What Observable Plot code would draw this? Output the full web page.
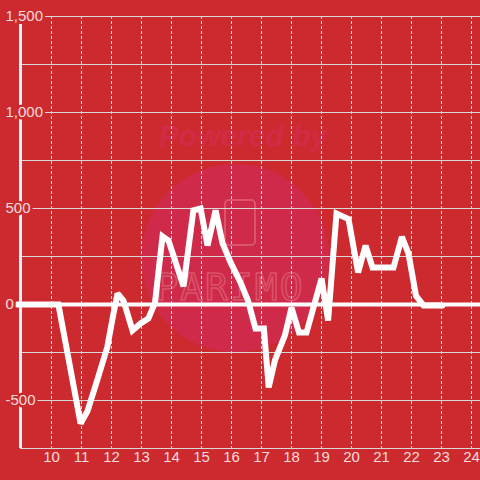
<!DOCTYPE html>
<html>
<head>
<meta charset="utf-8">
<script src="https://cdn.jsdelivr.net/npm/d3@7"></script>
<script src="https://cdn.jsdelivr.net/npm/@observablehq/plot@0.6"></script>
<style>
  html, body { margin: 0; padding: 0; background: #cd2a2f; }
  #wrap { position: relative; width: 480px; height: 480px; overflow: hidden; }
  #wm { position: absolute; left: 0; top: 0; width: 480px; height: 480px; z-index: 0; }
  #chart { position: absolute; left: 0; top: 0; z-index: 1; }
  #chart svg { background: transparent !important; }
</style>
</head>
<body>
<div id="wrap">
  <svg id="wm" width="480" height="480">
    <circle cx="235" cy="258" r="94" fill="#d02a4a"/>
    <text x="243" y="146" text-anchor="middle" font-family="Liberation Sans, Arial, sans-serif" font-weight="bold" font-style="italic" font-size="30" fill="#d12b46">Powered by</text>
    <rect x="225" y="200" width="30" height="45" rx="4" fill="none" stroke="#d9546c" stroke-width="2"/>
    <text x="230" y="300" text-anchor="middle" font-family="DejaVu Sans Mono, monospace" font-size="38" fill="none" stroke="#d9546c" stroke-width="1.5" letter-spacing="2">PARIMO</text>
  </svg>
  <div id="chart"></div>
</div>
<script>
// data (hour of day, value)
const hours = [8.87, 10.23, 10.97, 11.2, 11.52, 11.86, 12.05, 12.2, 12.4, 12.7, 12.97, 13.23, 13.45, 13.7, 13.9, 14.4, 14.73, 14.97, 15.2, 15.47, 15.7, 15.97, 16.3, 16.55, 16.8, 17.08, 17.24, 17.45, 17.78, 18.0, 18.25, 18.5, 19.0, 19.22, 19.5, 19.9, 20.22, 20.47, 20.7, 21.4, 21.68, 21.9, 22.15, 22.4, 23.03];
const values = [0, 0, -620, -555, -396, -222, -60, 57, 20, -135, -99, -73, 10, 355, 333, 95, 490, 500, 307, 490, 320, 219, 115, 20, -125, -125, -432, -290, -161, -16, -146, -146, 135, -83, 474, 445, 167, 307, 193, 193, 352, 265, 45, -5, -5];
const xTicks = [10, 11, 12, 13, 14, 15, 16, 17, 18, 19, 20, 21, 22, 23, 24];
const yLabelTicks = [1500, 1000, 500, 0, -500];
const yGridTicks = [1500, 1250, 1000, 750, 500, 250, -250, -500, -750];

const xDomain = [8.9667, 24.3];
const yDomain = [-750, 1500];
const bg = "#cd2a2f";
const labelColor = "#f4dcdc";

const data = hours.map((h, i) => ({ h, v: values[i] }));
const fmt = v => v.toLocaleString("en-US");

const chart = Plot.plot({
  width: 480,
  height: 480,
  marginLeft: 20,
  marginRight: 0,
  marginTop: 16,
  marginBottom: 32,
  style: { background: "transparent", fontFamily: "Liberation Sans, Arial, sans-serif", fontSize: "15px", color: labelColor },
  x: { domain: xDomain, axis: null },
  y: { domain: yDomain, axis: null },
  marks: [
    Plot.ruleX(xTicks, { stroke: "#e6e6e6", strokeWidth: 1, strokeDasharray: "3,2" }),
    Plot.ruleY(yGridTicks, { stroke: "#d8d8d8", strokeWidth: 1 }),
    Plot.ruleY([0], { stroke: "#ffffff", strokeWidth: 4 }),
    Plot.ruleX([xDomain[0]], { y1: yDomain[0], y2: 1458, stroke: "#f4f4f4", strokeWidth: 3 }),
    Plot.line(data, { x: "h", y: "v", stroke: "#ffffff", strokeWidth: 6, strokeLinejoin: "miter", strokeMiterlimit: 2 }),
    Plot.text(yLabelTicks, {
      x: () => xDomain[0], y: d => d, text: fmt,
      textAnchor: "start", dx: -15, fill: labelColor,
      stroke: bg, strokeWidth: 5, fontSize: 15
    }),
    Plot.text(xTicks, {
      x: d => d, text: d => String(d), frameAnchor: "bottom", dy: 13,
      fill: labelColor, fontSize: 15
    })
  ]
});
document.getElementById("chart").appendChild(chart);
</script>
</body>
</html>
